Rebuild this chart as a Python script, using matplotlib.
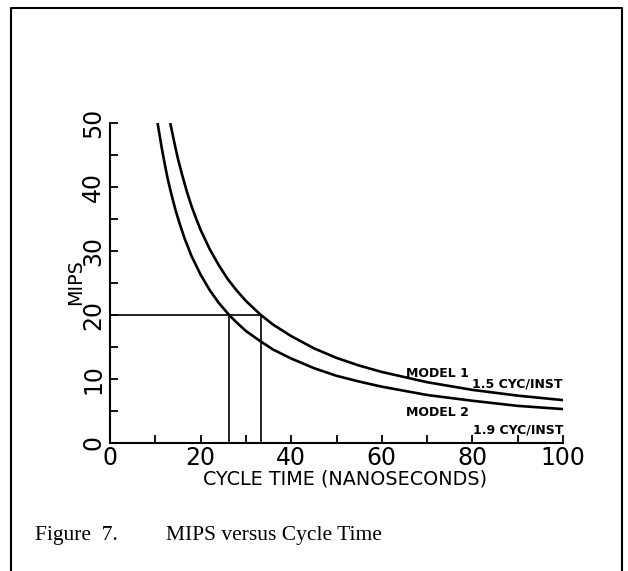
import numpy as np
import matplotlib
matplotlib.use("Agg")
import matplotlib.pyplot as plt
from matplotlib.lines import Line2D

# values (cycle time in ns, MIPS)
model1_t = [13.3, 13.8, 14.4, 15.0, 16.0, 17.0, 18.0, 19.0, 20.0, 22.0, 24.0, 26.0, 28.0,
            30.0, 33.3, 36.0, 40.0, 45.0, 50.0, 55.0, 60.0, 65.0, 70.0, 80.0, 90.0, 100.0]
model1_mips = [50.0, 48.3, 46.3, 44.4, 41.7, 39.2, 37.0, 35.1, 33.3, 30.3, 27.8, 25.6, 23.8,
               22.2, 20.0, 18.5, 16.7, 14.8, 13.3, 12.1, 11.1, 10.3, 9.5, 8.3, 7.4, 6.7]

model2_t = [10.5, 10.9, 11.4, 12.0, 12.7, 13.5, 14.5, 15.5, 16.5, 18.0, 20.0, 22.0, 24.0,
            26.3, 28.0, 30.0, 33.0, 36.0, 40.0, 45.0, 50.0, 55.0, 60.0, 70.0, 80.0, 90.0, 100.0]
model2_mips = [50.0, 48.3, 46.2, 43.9, 41.4, 39.0, 36.3, 34.0, 31.9, 29.2, 26.3, 23.9, 21.9,
               20.0, 18.8, 17.5, 16.0, 14.6, 13.2, 11.7, 10.5, 9.6, 8.8, 7.5, 6.6, 5.8, 5.3]

target_mips = 20.0
t_model2 = 26.3
t_model1 = 33.3

x_labels = ["0", "20", "40", "60", "80", "100"]
y_labels = ["0", "10", "20", "30", "40", "50"]

fig = plt.figure(figsize=(6.28, 5.71), dpi=100)
ax = fig.add_axes([110 / 628, 128 / 571, 453 / 628, 320 / 571])

ax.plot(model1_t, model1_mips, color="black", lw=1.9, solid_capstyle="butt")
ax.plot(model2_t, model2_mips, color="black", lw=1.9, solid_capstyle="butt")

# 20 MIPS guide lines
ax.plot([0, t_model1], [target_mips, target_mips], color="black", lw=1.2)
ax.plot([t_model2, t_model2], [0, target_mips], color="black", lw=1.2)
ax.plot([t_model1, t_model1], [0, target_mips], color="black", lw=1.2)

ax.set_xlim(0, 100)
ax.set_ylim(0, 50)
for s in ["top", "right"]:
    ax.spines[s].set_visible(False)
for s in ["left", "bottom"]:
    ax.spines[s].set_linewidth(1.5)

ax.set_xticks(np.arange(0, 101, 20), x_labels)
ax.set_xticks(np.arange(10, 100, 20), minor=True)
ax.set_yticks(np.arange(0, 51, 10), y_labels, rotation=90, va="center")
ax.set_yticks(np.arange(5, 50, 10), minor=True)
ax.tick_params(which="both", direction="in", length=6, width=1.3)
ax.tick_params(axis="x", labelsize=17, pad=2)
ax.tick_params(axis="y", labelsize=17, pad=3.5)

ax.set_xlabel("CYCLE TIME (NANOSECONDS)", fontsize=13.8)
ax.xaxis.set_label_coords(0.519, -0.084)
ax.set_ylabel("MIPS", fontsize=13.8)
ax.yaxis.set_label_coords(-0.055, 0.503)

ax.text(65.3, 10.3, "MODEL 1", fontsize=9, fontweight="bold", va="baseline")
ax.text(100, 8.6, "1.5 CYC/INST", fontsize=9, fontweight="bold", ha="right", va="baseline")
ax.text(65.3, 4.2, "MODEL 2", fontsize=9, fontweight="bold", va="baseline")
ax.text(100, 1.56, "1.9 CYC/INST", fontsize=9, fontweight="bold", ha="right", va="baseline")

fig.text(35 / 628, 31 / 571, "Figure  7.", family="Liberation Serif", fontsize=15.5)
fig.text(166 / 628, 31 / 571, "MIPS versus Cycle Time", family="Liberation Serif", fontsize=15.5)

# frame around the figure (no bottom edge)
top = 1 - 8 / 571
left = 11 / 628
right = 622 / 628
fig.add_artist(Line2D([left, left, right, right], [0, top, top, 0],
                      transform=fig.transFigure, color="black", lw=1.5))

fig.savefig("out.png", dpi=100)
